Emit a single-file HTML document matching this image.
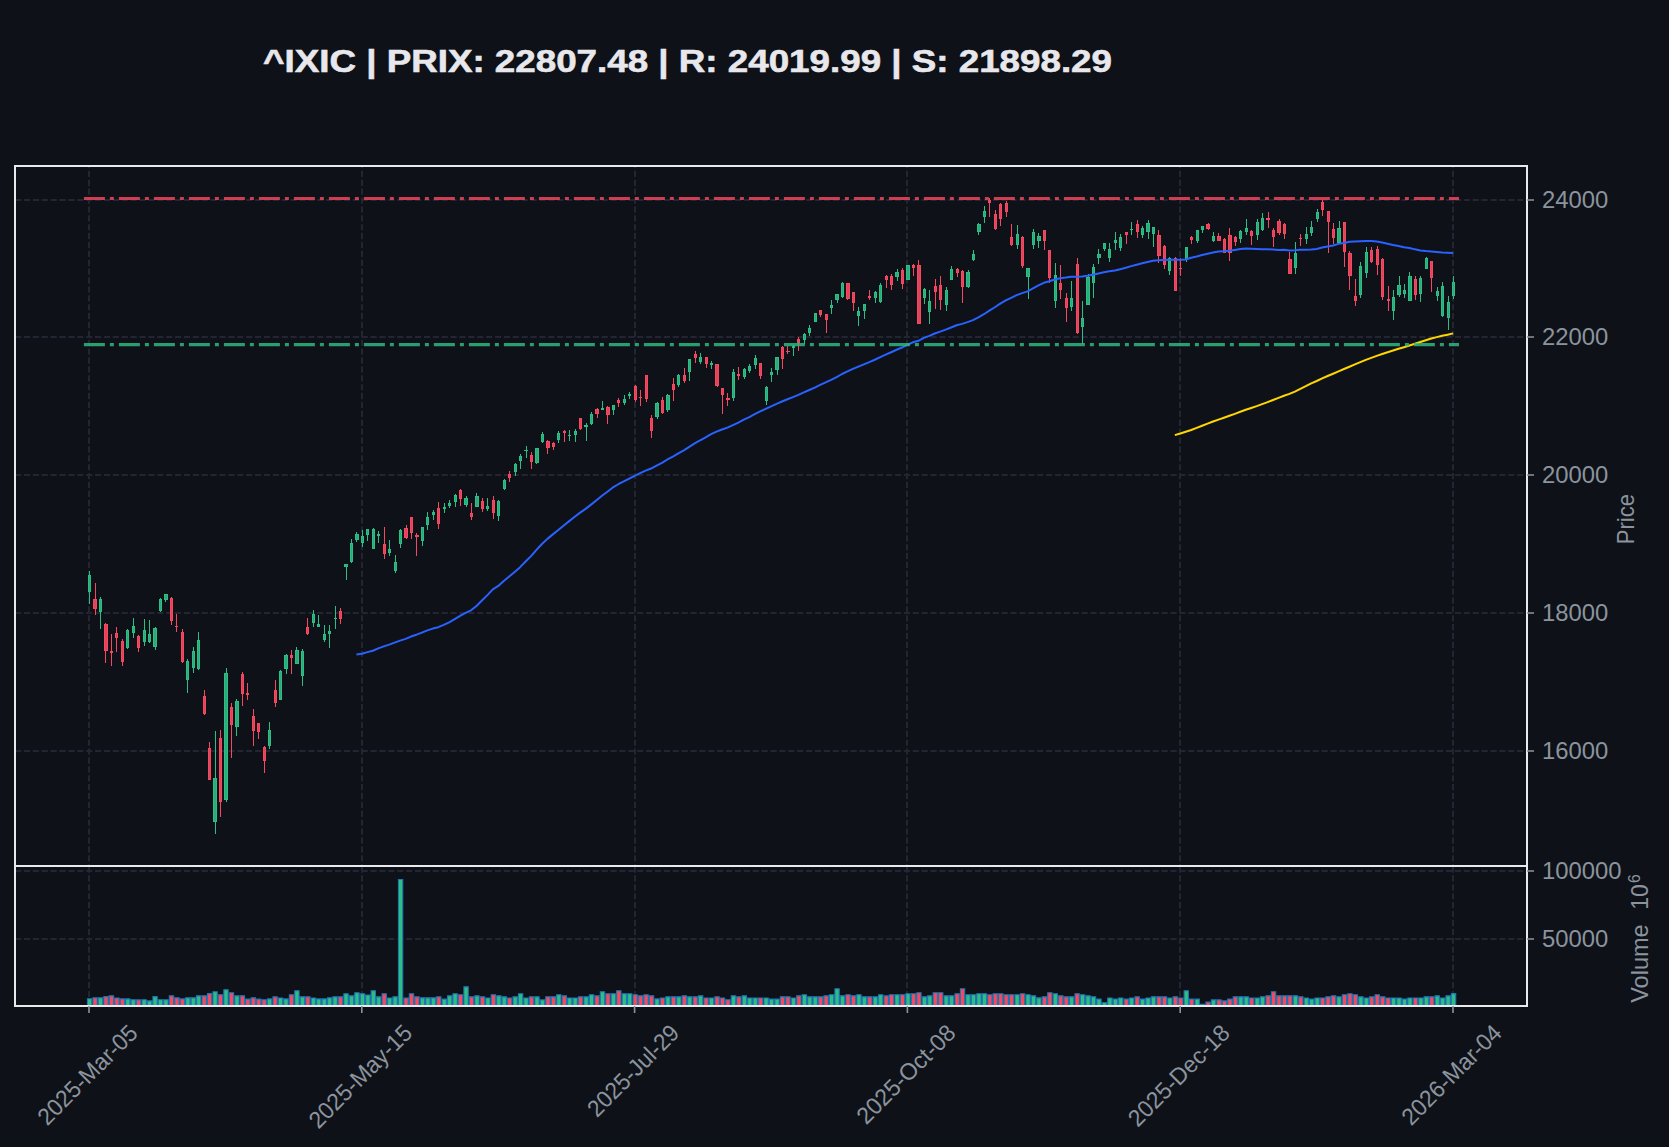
<!DOCTYPE html>
<html><head><meta charset="utf-8"><title>^IXIC chart</title>
<style>html,body{margin:0;padding:0;background:#0e1117;} svg{display:block;} text{font-family:"Liberation Sans", sans-serif;}</style>
</head><body>
<svg width="1669" height="1147" viewBox="0 0 1669 1147">
<rect x="0" y="0" width="1669" height="1147" fill="#0e1117"/>
<text x="263" y="72.0" font-weight="bold" font-size="31.5" fill="#e8e8ec" stroke="#e8e8ec" stroke-width="0.6" textLength="849" lengthAdjust="spacingAndGlyphs">^IXIC | PRIX: 22807.48 | R: 24019.99 | S: 21898.29</text>
<path d="M15 200H1527M15 337H1527M15 475H1527M15 613H1527M15 751H1527M15 871.00H1527M15 939.00H1527" stroke="#232532" stroke-width="2" stroke-dasharray="6.2 2.688" fill="none"/>
<path d="M89 866V166M362 866V166M635 866V166M907 866V166M1180 866V166M1453 866V166" stroke="#232532" stroke-width="2" stroke-dasharray="6.2 2.688" stroke-dashoffset="4.3" fill="none"/>
<path d="M89 1006V866M362 1006V866M635 1006V866M907 1006V866M1180 1006V866M1453 1006V866" stroke="#232532" stroke-width="2" stroke-dasharray="6.2 2.688" stroke-dashoffset="0" fill="none"/>
<path d="M89 571h1V604h-1zM100 597h1V629h-1zM127 629h1V649h-1zM133 618h1V638h-1zM144 619h1V646h-1zM149 620h1V643h-1zM155 627h1V650h-1zM160 598h1V612h-1zM165 594h1V602h-1zM187 659h1V693h-1zM193 647h1V673h-1zM198 632h1V670h-1zM215 731h1V834h-1zM226 668h1V802h-1zM236 699h1V736h-1zM269 722h1V749h-1zM280 670h1V700h-1zM286 654h1V674h-1zM296 647h1V664h-1zM302 649h1V686h-1zM313 610h1V627h-1zM318 615h1V627h-1zM324 625h1V642h-1zM329 625h1V648h-1zM335 606h1V629h-1zM346 564h1V580h-1zM351 539h1V563h-1zM356 532h1V542h-1zM362 530h1V547h-1zM367 529h1V541h-1zM373 528h1V549h-1zM378 531h1V543h-1zM389 540h1V556h-1zM395 555h1V573h-1zM400 529h1V548h-1zM422 527h1V546h-1zM427 512h1V530h-1zM433 510h1V520h-1zM444 503h1V513h-1zM449 500h1V508h-1zM455 494h1V507h-1zM466 496h1V507h-1zM476 493h1V507h-1zM487 498h1V511h-1zM498 500h1V521h-1zM504 479h1V490h-1zM515 463h1V476h-1zM520 454h1V469h-1zM526 446h1V458h-1zM536 448h1V464h-1zM542 432h1V443h-1zM558 431h1V443h-1zM569 430h1V441h-1zM575 429h1V442h-1zM586 423h1V441h-1zM591 412h1V425h-1zM602 401h1V410h-1zM613 405h1V415h-1zM624 395h1V405h-1zM629 392h1V399h-1zM657 402h1V419h-1zM667 394h1V412h-1zM678 374h1V387h-1zM689 359h1V381h-1zM700 353h1V364h-1zM711 361h1V369h-1zM733 369h1V401h-1zM744 368h1V379h-1zM749 364h1V373h-1zM755 355h1V369h-1zM766 386h1V405h-1zM771 368h1V382h-1zM777 357h1V375h-1zM793 345h1V356h-1zM804 333h1V344h-1zM809 325h1V336h-1zM815 313h1V322h-1zM831 300h1V314h-1zM837 294h1V303h-1zM842 282h1V298h-1zM858 307h1V326h-1zM864 304h1V319h-1zM875 291h1V303h-1zM880 283h1V303h-1zM897 269h1V281h-1zM908 265h1V280h-1zM924 288h1V304h-1zM929 290h1V324h-1zM946 287h1V311h-1zM951 266h1V280h-1zM968 270h1V288h-1zM973 250h1V261h-1zM978 223h1V235h-1zM984 206h1V223h-1zM1017 225h1V249h-1zM1028 268h1V299h-1zM1033 229h1V249h-1zM1038 233h1V248h-1zM1055 263h1V308h-1zM1071 281h1V311h-1zM1082 301h1V344h-1zM1088 274h1V305h-1zM1093 264h1V298h-1zM1098 249h1V264h-1zM1104 243h1V251h-1zM1109 243h1V262h-1zM1115 232h1V250h-1zM1120 234h1V251h-1zM1131 222h1V235h-1zM1142 226h1V238h-1zM1148 220h1V239h-1zM1153 227h1V247h-1zM1169 257h1V275h-1zM1186 247h1V262h-1zM1197 230h1V243h-1zM1202 226h1V233h-1zM1213 232h1V242h-1zM1240 230h1V243h-1zM1246 219h1V235h-1zM1257 219h1V240h-1zM1262 213h1V231h-1zM1295 242h1V274h-1zM1306 227h1V244h-1zM1311 221h1V236h-1zM1317 209h1V222h-1zM1339 221h1V244h-1zM1360 262h1V298h-1zM1366 247h1V278h-1zM1393 290h1V320h-1zM1399 276h1V297h-1zM1404 284h1V298h-1zM1409 272h1V301h-1zM1420 276h1V302h-1zM1426 257h1V269h-1zM1437 287h1V301h-1zM1442 282h1V317h-1zM1448 296h1V330h-1zM1453 276h1V299h-1z" fill="#2ebd85"/>
<path d="M95 583h1V615h-1zM105 623h1V663h-1zM111 634h1V666h-1zM116 627h1V652h-1zM122 639h1V666h-1zM138 635h1V652h-1zM171 597h1V625h-1zM176 614h1V632h-1zM182 629h1V663h-1zM204 690h1V715h-1zM209 742h1V780h-1zM220 730h1V817h-1zM231 703h1V758h-1zM242 672h1V706h-1zM247 683h1V700h-1zM253 709h1V746h-1zM258 723h1V739h-1zM264 746h1V773h-1zM275 680h1V707h-1zM291 650h1V674h-1zM307 618h1V635h-1zM340 608h1V624h-1zM384 527h1V559h-1zM406 525h1V539h-1zM411 517h1V539h-1zM416 533h1V556h-1zM438 502h1V529h-1zM460 489h1V506h-1zM471 503h1V520h-1zM482 498h1V512h-1zM493 496h1V519h-1zM509 471h1V482h-1zM531 452h1V469h-1zM547 440h1V454h-1zM553 442h1V450h-1zM564 430h1V442h-1zM580 418h1V430h-1zM597 408h1V418h-1zM607 406h1V424h-1zM618 398h1V407h-1zM635 385h1V402h-1zM640 390h1V406h-1zM646 375h1V402h-1zM651 415h1V438h-1zM662 397h1V414h-1zM673 378h1V401h-1zM684 368h1V383h-1zM695 351h1V363h-1zM706 357h1V368h-1zM717 364h1V387h-1zM722 388h1V414h-1zM727 393h1V406h-1zM738 367h1V380h-1zM760 363h1V379h-1zM782 346h1V369h-1zM787 346h1V354h-1zM798 337h1V351h-1zM820 310h1V317h-1zM826 314h1V333h-1zM847 283h1V300h-1zM853 292h1V311h-1zM869 290h1V300h-1zM886 275h1V288h-1zM891 274h1V290h-1zM902 268h1V289h-1zM913 264h1V276h-1zM918 260h1V324h-1zM935 279h1V309h-1zM940 276h1V310h-1zM957 268h1V277h-1zM962 270h1V303h-1zM989 198h1V217h-1zM995 210h1V230h-1zM1000 203h1V226h-1zM1006 201h1V217h-1zM1011 224h1V246h-1zM1022 236h1V268h-1zM1044 230h1V250h-1zM1049 250h1V283h-1zM1060 265h1V299h-1zM1066 293h1V322h-1zM1077 258h1V334h-1zM1126 232h1V244h-1zM1137 220h1V238h-1zM1158 230h1V263h-1zM1164 245h1V269h-1zM1175 257h1V291h-1zM1180 258h1V276h-1zM1191 236h1V244h-1zM1208 223h1V230h-1zM1218 233h1V241h-1zM1224 238h1V253h-1zM1229 228h1V261h-1zM1235 236h1V246h-1zM1251 230h1V245h-1zM1268 212h1V228h-1zM1273 228h1V247h-1zM1279 219h1V235h-1zM1284 223h1V239h-1zM1289 252h1V274h-1zM1300 234h1V246h-1zM1322 200h1V216h-1zM1328 211h1V253h-1zM1333 223h1V244h-1zM1344 222h1V267h-1zM1349 251h1V290h-1zM1355 279h1V306h-1zM1371 247h1V263h-1zM1377 246h1V275h-1zM1382 258h1V300h-1zM1388 286h1V311h-1zM1415 276h1V300h-1zM1431 261h1V292h-1z" fill="#f6485f"/>
<path d="M88 575H91V592H88zM99 599H102V612H99zM126 630H129V648H126zM132 626H135V633H132zM143 630H146V642H143zM148 634H151V642H148zM153 628H157V647H153zM159 599H162V611H159zM164 594H168V600H164zM186 661H189V680H186zM192 651H195V668H192zM197 640H200V669H197zM213 778H217V822H213zM224 673H228V800H224zM235 701H239V727H235zM268 730H271V746H268zM279 671H282V700H279zM284 655H288V669H284zM295 650H299V664H295zM301 651H304V676H301zM312 614H315V623H312zM317 624H320V627H317zM323 634H326V640H323zM328 631H331V634H328zM334 618H337V619H334zM344 564H348V567H344zM350 543H353V562H350zM355 534H359V540H355zM361 536H364V543H361zM366 529H369V535H366zM372 529H375V549H372zM377 534H380V536H377zM388 549H391V553H388zM394 562H397V571H394zM399 530H402V544H399zM421 527H424V541H421zM426 517H429V525H426zM432 512H435V515H432zM443 507H446V509H443zM448 503H451V506H448zM454 495H457V502H454zM464 498H468V505H464zM475 496H479V507H475zM486 506H489V509H486zM497 501H500V516H497zM503 480H506V489H503zM514 464H517V472H514zM519 456H522V461H519zM524 450H528V451H524zM535 448H539V463H535zM541 434H544V442H541zM557 433H560V440H557zM568 435H571V436H568zM574 431H577V435H574zM584 425H588V427H584zM590 414H593V424H590zM601 408H604V410H601zM612 405H615V410H612zM623 399H626V403H623zM628 394H631V396H628zM655 403H659V417H655zM666 395H670V410H666zM677 375H680V385H677zM688 359H691V372H688zM699 357H702V362H699zM710 363H713V365H710zM732 372H735V398H732zM743 369H746V377H743zM748 366H751V371H748zM754 358H757V365H754zM765 387H768V401H765zM770 372H773V375H770zM775 357H779V370H775zM792 346H795V348H792zM803 334H806V340H803zM808 328H811V333H808zM814 313H817V322H814zM830 305H833V308H830zM835 294H839V300H835zM841 283H844V297H841zM857 311H860V316H857zM863 304H866V311H863zM874 292H877V298H874zM879 285H882V302H879zM895 272H899V277H895zM906 265H910V280H906zM923 289H926V298H923zM928 301H931V312H928zM945 290H948V305H945zM950 269H953V280H950zM966 272H970V287H966zM972 254H975V260H972zM977 224H981V232H977zM983 211H986V217H983zM1016 234H1019V245H1016zM1026 268H1030V277H1026zM1032 232H1035V245H1032zM1037 236H1041V241H1037zM1054 275H1057V301H1054zM1070 298H1073V307H1070zM1081 318H1084V327H1081zM1086 277H1090V305H1086zM1092 267H1095V283H1092zM1097 254H1101V258H1097zM1103 243H1106V249H1103zM1108 249H1111V258H1108zM1114 240H1117V243H1114zM1119 237H1122V248H1119zM1130 229H1133V230H1130zM1141 228H1144V235H1141zM1146 223H1150V232H1146zM1152 227H1155V234H1152zM1168 258H1171V271H1168zM1185 247H1188V260H1185zM1196 230H1199V241H1196zM1201 226H1204V230H1201zM1212 236H1215V241H1212zM1239 231H1242V239H1239zM1245 228H1248V232H1245zM1256 222H1259V235H1256zM1261 218H1264V230H1261zM1294 253H1297V268H1294zM1305 234H1308V239H1305zM1310 227H1313V233H1310zM1316 212H1319V219H1316zM1337 228H1341V243H1337zM1359 266H1362V295H1359zM1365 252H1368V273H1365zM1392 297H1395V311H1392zM1397 285H1401V295H1397zM1403 290H1406V294H1403zM1408 276H1412V301H1408zM1419 278H1422V294H1419zM1425 258H1428V269H1425zM1436 291H1439V296H1436zM1441 286H1444V316H1441zM1447 302H1450V318H1447zM1452 282H1455V296H1452z" fill="#2ebd85"/>
<path d="M93 599H97V609H93zM104 624H108V651H104zM110 651H113V653H110zM115 633H118V638H115zM121 641H124V662H121zM137 636H140V648H137zM170 598H173V621H170zM175 626H178V627H175zM181 632H184V662H181zM203 696H206V714H203zM208 748H211V780H208zM219 738H222V802H219zM230 707H233V725H230zM241 674H244V694H241zM246 693H249V695H246zM252 716H255V731H252zM257 723H260V732H257zM263 747H266V761H263zM274 690H277V703H274zM290 655H293V658H290zM306 627H309V634H306zM339 611H342V619H339zM383 544H386V554H383zM404 528H408V538H404zM410 517H413V533H410zM415 535H419V537H415zM437 508H440V524H437zM459 490H462V499H459zM470 513H473V517H470zM481 501H484V509H481zM492 500H495V513H492zM508 474H511V478H508zM530 455H533V462H530zM546 441H550V448H546zM552 443H555V447H552zM563 431H566V433H563zM579 418H582V429H579zM595 409H599V414H595zM606 407H610V415H606zM617 400H620V403H617zM634 386H637V400H634zM639 397H642V398H639zM645 375H648V399H645zM650 418H653V431H650zM661 400H664V413H661zM672 384H675V390H672zM683 375H686V381H683zM694 354H697V358H694zM705 357H708V364H705zM715 364H719V386H715zM721 388H724V395H721zM726 398H730V400H726zM737 374H740V376H737zM759 363H762V376H759zM781 347H784V359H781zM786 351H790V352H786zM797 339H800V343H797zM819 310H822V315H819zM825 314H828V320H825zM846 283H850V299H846zM852 292H855V303H852zM868 296H871V298H868zM885 276H888V280H885zM890 276H893V285H890zM901 270H904V284H901zM912 265H915V268H912zM917 265H921V324H917zM934 286H937V292H934zM939 285H942V300H939zM956 269H959V273H956zM961 271H964V287H961zM988 200H991V203H988zM994 214H997V229H994zM999 204H1002V219H999zM1005 203H1008V212H1005zM1010 237H1013V245H1010zM1021 237H1024V266H1021zM1043 230H1046V241H1043zM1048 250H1051V278H1048zM1059 283H1062V290H1059zM1065 298H1068V308H1065zM1076 264H1079V333H1076zM1125 232H1128V235H1125zM1136 224H1139V232H1136zM1157 235H1161V256H1157zM1163 246H1166V265H1163zM1174 258H1177V291H1174zM1179 268H1182V269H1179zM1190 237H1193V240H1190zM1206 224H1210V229H1206zM1217 236H1221V241H1217zM1223 239H1226V253H1223zM1228 235H1232V253H1228zM1234 237H1237V242H1234zM1250 231H1253V236H1250zM1266 218H1270V220H1266zM1272 230H1275V237H1272zM1277 221H1281V233H1277zM1283 224H1286V234H1283zM1288 259H1292V274H1288zM1299 238H1302V239H1299zM1321 202H1324V210H1321zM1327 211H1330V222H1327zM1332 229H1335V238H1332zM1343 222H1346V252H1343zM1348 253H1352V276H1348zM1354 296H1357V301H1354zM1370 250H1373V262H1370zM1376 249H1379V265H1376zM1381 259H1384V297H1381zM1387 299H1390V301H1387zM1414 279H1417V295H1414zM1430 261H1433V278H1430z" fill="#f6485f"/>
<path d="M89 576H90V591H89zM100 600H101V611H100zM127 631H128V647H127zM133 627H134V632H133zM144 631H145V641H144zM149 635H150V641H149zM154 629H156V646H154zM160 600H161V610H160zM165 595H167V599H165zM187 662H188V679H187zM193 652H194V667H193zM198 641H199V668H198zM214 779H216V821H214zM225 674H227V799H225zM236 702H238V726H236zM269 731H270V745H269zM280 672H281V699H280zM285 656H287V668H285zM296 651H298V663H296zM302 652H303V675H302zM313 615H314V622H313zM318 625H319V626H318zM324 635H325V639H324zM329 632H330V633H329zM345 565H347V566H345zM351 544H352V561H351zM356 535H358V539H356zM362 537H363V542H362zM367 530H368V534H367zM373 530H374V548H373zM389 550H390V552H389zM395 563H396V570H395zM400 531H401V543H400zM422 528H423V540H422zM427 518H428V524H427zM433 513H434V514H433zM449 504H450V505H449zM455 496H456V501H455zM465 499H467V504H465zM476 497H478V506H476zM487 507H488V508H487zM498 502H499V515H498zM504 481H505V488H504zM515 465H516V471H515zM520 457H521V460H520zM536 449H538V462H536zM542 435H543V441H542zM558 434H559V439H558zM575 432H576V434H575zM591 415H592V423H591zM613 406H614V409H613zM624 400H625V402H624zM656 404H658V416H656zM667 396H669V409H667zM678 376H679V384H678zM689 360H690V371H689zM700 358H701V361H700zM733 373H734V397H733zM744 370H745V376H744zM749 367H750V370H749zM755 359H756V364H755zM766 388H767V400H766zM771 373H772V374H771zM776 358H778V369H776zM804 335H805V339H804zM809 329H810V332H809zM815 314H816V321H815zM831 306H832V307H831zM836 295H838V299H836zM842 284H843V296H842zM858 312H859V315H858zM864 305H865V310H864zM875 293H876V297H875zM880 286H881V301H880zM896 273H898V276H896zM907 266H909V279H907zM924 290H925V297H924zM929 302H930V311H929zM946 291H947V304H946zM951 270H952V279H951zM967 273H969V286H967zM973 255H974V259H973zM978 225H980V231H978zM984 212H985V216H984zM1017 235H1018V244H1017zM1027 269H1029V276H1027zM1033 233H1034V244H1033zM1038 237H1040V240H1038zM1055 276H1056V300H1055zM1071 299H1072V306H1071zM1082 319H1083V326H1082zM1087 278H1089V304H1087zM1093 268H1094V282H1093zM1098 255H1100V257H1098zM1104 244H1105V248H1104zM1109 250H1110V257H1109zM1115 241H1116V242H1115zM1120 238H1121V247H1120zM1142 229H1143V234H1142zM1147 224H1149V231H1147zM1153 228H1154V233H1153zM1169 259H1170V270H1169zM1186 248H1187V259H1186zM1197 231H1198V240H1197zM1202 227H1203V229H1202zM1213 237H1214V240H1213zM1240 232H1241V238H1240zM1246 229H1247V231H1246zM1257 223H1258V234H1257zM1262 219H1263V229H1262zM1295 254H1296V267H1295zM1306 235H1307V238H1306zM1311 228H1312V232H1311zM1317 213H1318V218H1317zM1338 229H1340V242H1338zM1360 267H1361V294H1360zM1366 253H1367V272H1366zM1393 298H1394V310H1393zM1398 286H1400V294H1398zM1404 291H1405V293H1404zM1409 277H1411V300H1409zM1420 279H1421V293H1420zM1426 259H1427V268H1426zM1437 292H1438V295H1437zM1442 287H1443V315H1442zM1448 303H1449V317H1448zM1453 283H1454V295H1453z" fill="#2aac7a"/>
<path d="M94 600H96V608H94zM105 625H107V650H105zM116 634H117V637H116zM122 642H123V661H122zM138 637H139V647H138zM171 599H172V620H171zM182 633H183V661H182zM204 697H205V713H204zM209 749H210V779H209zM220 739H221V801H220zM231 708H232V724H231zM242 675H243V693H242zM253 717H254V730H253zM258 724H259V731H258zM264 748H265V760H264zM275 691H276V702H275zM291 656H292V657H291zM307 628H308V633H307zM340 612H341V618H340zM384 545H385V553H384zM405 529H407V537H405zM411 518H412V532H411zM438 509H439V523H438zM460 491H461V498H460zM471 514H472V516H471zM482 502H483V508H482zM493 501H494V512H493zM509 475H510V477H509zM531 456H532V461H531zM547 442H549V447H547zM553 444H554V446H553zM580 419H581V428H580zM596 410H598V413H596zM607 408H609V414H607zM618 401H619V402H618zM635 387H636V399H635zM646 376H647V398H646zM651 419H652V430H651zM662 401H663V412H662zM673 385H674V389H673zM684 376H685V380H684zM695 355H696V357H695zM706 358H707V363H706zM716 365H718V385H716zM722 389H723V394H722zM760 364H761V375H760zM782 348H783V358H782zM798 340H799V342H798zM820 311H821V314H820zM826 315H827V319H826zM847 284H849V298H847zM853 293H854V302H853zM886 277H887V279H886zM891 277H892V284H891zM902 271H903V283H902zM913 266H914V267H913zM918 266H920V323H918zM935 287H936V291H935zM940 286H941V299H940zM957 270H958V272H957zM962 272H963V286H962zM989 201H990V202H989zM995 215H996V228H995zM1000 205H1001V218H1000zM1006 204H1007V211H1006zM1011 238H1012V244H1011zM1022 238H1023V265H1022zM1044 231H1045V240H1044zM1049 251H1050V277H1049zM1060 284H1061V289H1060zM1066 299H1067V307H1066zM1077 265H1078V332H1077zM1126 233H1127V234H1126zM1137 225H1138V231H1137zM1158 236H1160V255H1158zM1164 247H1165V264H1164zM1175 259H1176V290H1175zM1191 238H1192V239H1191zM1207 225H1209V228H1207zM1218 237H1220V240H1218zM1224 240H1225V252H1224zM1229 236H1231V252H1229zM1235 238H1236V241H1235zM1251 232H1252V235H1251zM1273 231H1274V236H1273zM1278 222H1280V232H1278zM1284 225H1285V233H1284zM1289 260H1291V273H1289zM1322 203H1323V209H1322zM1328 212H1329V221H1328zM1333 230H1334V237H1333zM1344 223H1345V251H1344zM1349 254H1351V275H1349zM1355 297H1356V300H1355zM1371 251H1372V261H1371zM1377 250H1378V264H1377zM1382 260H1383V296H1382zM1415 280H1416V294H1415zM1431 262H1432V277H1431z" fill="#e0445a"/>
<polyline points="356.44,654.51 361.90,653.73 367.36,652.13 372.81,650.72 378.27,648.38 383.72,646.39 389.18,644.61 394.64,642.62 400.09,640.61 405.55,638.85 411.00,636.55 416.46,634.69 421.92,632.56 427.37,630.33 432.83,628.58 438.28,627.19 443.74,624.91 449.20,622.42 454.65,619.08 460.11,615.85 465.56,612.80 471.02,610.33 476.48,605.97 481.93,600.55 487.39,595.11 492.84,589.34 498.30,585.90 503.76,581.01 509.21,576.55 514.67,571.95 520.12,567.17 525.58,561.56 531.04,556.16 536.49,549.90 541.95,543.97 547.40,538.86 552.86,534.39 558.32,529.95 563.77,525.44 569.23,521.14 574.68,516.74 580.14,512.64 585.60,508.86 591.05,504.65 596.51,500.25 601.96,495.78 607.42,491.72 612.88,487.45 618.33,484.24 623.79,481.35 629.24,478.56 634.70,475.84 640.16,473.21 645.61,470.61 651.07,468.55 656.52,465.53 661.98,462.82 667.44,459.48 672.89,456.69 678.35,453.43 683.80,450.39 689.26,446.84 694.72,443.46 700.17,440.26 705.63,437.30 711.08,434.07 716.54,431.66 722.00,429.50 727.45,427.60 732.91,425.05 738.36,422.62 743.82,419.67 749.28,417.07 754.73,414.05 760.19,411.46 765.64,408.93 771.10,406.35 776.56,403.89 782.01,401.50 787.47,399.26 792.92,397.06 798.38,394.93 803.84,392.38 809.29,389.97 814.75,387.56 820.20,384.91 825.66,382.36 831.12,379.80 836.57,377.04 842.03,374.00 847.48,371.37 852.94,368.86 858.40,366.58 863.85,364.39 869.31,362.07 874.76,359.75 880.22,357.15 885.68,354.64 891.13,352.27 896.59,349.74 902.04,347.55 907.50,344.86 912.96,342.26 918.41,340.77 923.87,337.93 929.32,335.90 934.78,333.47 940.24,331.57 945.69,329.58 951.15,327.46 956.60,325.29 962.06,323.85 967.52,322.13 972.97,320.07 978.43,317.27 983.88,314.23 989.34,310.57 994.80,307.26 1000.25,303.64 1005.71,300.45 1011.16,297.83 1016.62,295.13 1022.08,293.14 1027.53,291.34 1032.99,288.46 1038.44,285.44 1043.90,282.81 1049.36,281.23 1054.81,279.56 1060.27,278.32 1065.72,277.56 1071.18,276.65 1076.64,276.63 1082.09,276.42 1087.55,275.69 1093.00,274.74 1098.46,273.43 1103.92,272.18 1109.37,271.27 1114.83,270.41 1120.28,269.16 1125.74,267.79 1131.20,266.14 1136.65,264.70 1142.11,263.31 1147.56,261.93 1153.02,260.78 1158.48,260.30 1163.93,259.92 1169.39,259.64 1174.84,259.77 1180.30,259.84 1185.76,259.43 1191.21,257.74 1196.67,256.57 1202.12,255.07 1207.58,253.82 1213.04,252.54 1218.49,251.56 1223.95,251.23 1229.40,250.83 1234.86,249.93 1240.32,249.11 1245.77,248.59 1251.23,248.83 1256.68,249.05 1262.14,249.35 1267.60,249.15 1273.05,249.51 1278.51,249.93 1283.96,249.70 1289.42,250.49 1294.88,250.22 1300.33,249.64 1305.79,249.68 1311.24,249.50 1316.70,248.93 1322.16,247.56 1327.61,246.50 1333.07,245.46 1338.52,243.86 1343.98,242.93 1349.44,241.79 1354.89,241.45 1360.35,241.24 1365.80,240.94 1371.26,241.10 1376.72,241.53 1382.17,242.49 1387.63,243.71 1393.08,244.92 1398.54,245.93 1404.00,247.15 1409.45,248.02 1414.91,249.35 1420.36,250.45 1425.82,251.06 1431.28,251.50 1436.73,252.01 1442.19,252.57 1447.64,252.80 1453.10,253.06" stroke="#2962ff" stroke-width="2.0" fill="none" stroke-linejoin="round"/>
<polyline points="1174.84,435.10 1180.30,433.57 1185.76,431.76 1191.21,429.96 1196.67,427.86 1202.12,425.73 1207.58,423.68 1213.04,421.55 1218.49,419.61 1223.95,417.74 1229.40,415.77 1234.86,413.83 1240.32,411.81 1245.77,409.81 1251.23,408.00 1256.68,406.14 1262.14,404.12 1267.60,402.08 1273.05,399.96 1278.51,397.82 1283.96,395.74 1289.42,393.91 1294.88,391.60 1300.33,388.90 1305.79,386.18 1311.24,383.30 1316.70,381.00 1322.16,378.42 1327.61,376.03 1333.07,373.75 1338.52,371.41 1343.98,369.02 1349.44,366.74 1354.89,364.44 1360.35,362.12 1365.80,359.86 1371.26,357.82 1376.72,355.87 1382.17,354.06 1387.63,352.32 1393.08,350.55 1398.54,348.80 1404.00,347.18 1409.45,345.44 1414.91,343.75 1420.36,341.98 1425.82,340.18 1431.28,338.48 1436.73,337.11 1442.19,335.83 1447.64,334.67 1453.10,333.40" stroke="#ffd700" stroke-width="2.0" fill="none" stroke-linejoin="round"/>
<path d="M83.90 198.52H1459.00" stroke="#f6485f" stroke-width="3.1" stroke-dasharray="21 5 4 5" fill="none" opacity="0.82"/>
<path d="M83.90 344.66H1459.00" stroke="#2ebd85" stroke-width="3.1" stroke-dasharray="21 5 4 5" fill="none" opacity="0.82"/>
<path d="M87.45 998.68h4.3V1007h-4.3zM98.36 997.87h4.3V1007h-4.3zM125.64 998.88h4.3V1007h-4.3zM131.10 999.70h4.3V1007h-4.3zM142.01 999.70h4.3V1007h-4.3zM147.47 1000.92h4.3V1007h-4.3zM152.92 996.64h4.3V1007h-4.3zM158.38 999.70h4.3V1007h-4.3zM163.83 999.70h4.3V1007h-4.3zM185.66 997.87h4.3V1007h-4.3zM191.11 997.87h4.3V1007h-4.3zM196.57 995.83h4.3V1007h-4.3zM212.94 991.75h4.3V1007h-4.3zM223.85 989.72h4.3V1007h-4.3zM234.76 995.83h4.3V1007h-4.3zM267.50 998.88h4.3V1007h-4.3zM278.41 998.07h4.3V1007h-4.3zM283.87 998.88h4.3V1007h-4.3zM294.78 990.74h4.3V1007h-4.3zM300.23 996.85h4.3V1007h-4.3zM311.15 998.07h4.3V1007h-4.3zM316.60 998.88h4.3V1007h-4.3zM322.06 998.88h4.3V1007h-4.3zM327.51 997.87h4.3V1007h-4.3zM332.97 996.85h4.3V1007h-4.3zM343.88 993.79h4.3V1007h-4.3zM349.34 995.83h4.3V1007h-4.3zM354.79 992.77h4.3V1007h-4.3zM360.25 993.79h4.3V1007h-4.3zM365.71 995.01h4.3V1007h-4.3zM371.16 990.74h4.3V1007h-4.3zM376.62 996.85h4.3V1007h-4.3zM387.53 998.07h4.3V1007h-4.3zM392.99 996.85h4.3V1007h-4.3zM398.44 879.55h4.3V1007h-4.3zM420.27 997.87h4.3V1007h-4.3zM425.72 997.87h4.3V1007h-4.3zM431.18 997.87h4.3V1007h-4.3zM442.09 999.09h4.3V1007h-4.3zM447.55 995.83h4.3V1007h-4.3zM453.00 993.79h4.3V1007h-4.3zM463.91 986.86h4.3V1007h-4.3zM474.83 995.83h4.3V1007h-4.3zM485.74 998.07h4.3V1007h-4.3zM496.65 995.83h4.3V1007h-4.3zM502.11 996.85h4.3V1007h-4.3zM513.02 996.85h4.3V1007h-4.3zM518.47 993.79h4.3V1007h-4.3zM523.93 998.07h4.3V1007h-4.3zM534.84 996.85h4.3V1007h-4.3zM540.30 999.90h4.3V1007h-4.3zM556.67 994.81h4.3V1007h-4.3zM567.58 998.07h4.3V1007h-4.3zM573.03 998.07h4.3V1007h-4.3zM583.95 996.85h4.3V1007h-4.3zM589.40 994.81h4.3V1007h-4.3zM600.31 991.75h4.3V1007h-4.3zM611.23 993.79h4.3V1007h-4.3zM622.14 993.79h4.3V1007h-4.3zM627.59 993.79h4.3V1007h-4.3zM654.87 998.88h4.3V1007h-4.3zM665.79 996.85h4.3V1007h-4.3zM676.70 996.85h4.3V1007h-4.3zM687.61 996.85h4.3V1007h-4.3zM698.52 995.83h4.3V1007h-4.3zM709.43 998.07h4.3V1007h-4.3zM731.26 995.83h4.3V1007h-4.3zM742.17 995.83h4.3V1007h-4.3zM747.63 998.07h4.3V1007h-4.3zM753.08 998.07h4.3V1007h-4.3zM763.99 998.07h4.3V1007h-4.3zM769.45 999.09h4.3V1007h-4.3zM774.91 999.09h4.3V1007h-4.3zM791.27 998.07h4.3V1007h-4.3zM802.19 994.81h4.3V1007h-4.3zM807.64 996.85h4.3V1007h-4.3zM813.10 996.85h4.3V1007h-4.3zM829.47 994.81h4.3V1007h-4.3zM834.92 988.70h4.3V1007h-4.3zM840.38 995.83h4.3V1007h-4.3zM856.75 994.81h4.3V1007h-4.3zM862.20 996.85h4.3V1007h-4.3zM873.11 996.85h4.3V1007h-4.3zM878.57 994.81h4.3V1007h-4.3zM894.94 994.81h4.3V1007h-4.3zM905.85 993.79h4.3V1007h-4.3zM922.22 996.85h4.3V1007h-4.3zM927.67 995.83h4.3V1007h-4.3zM944.04 995.83h4.3V1007h-4.3zM949.50 995.83h4.3V1007h-4.3zM965.87 994.81h4.3V1007h-4.3zM971.32 994.81h4.3V1007h-4.3zM976.78 993.79h4.3V1007h-4.3zM982.23 993.79h4.3V1007h-4.3zM1014.97 994.81h4.3V1007h-4.3zM1025.88 994.81h4.3V1007h-4.3zM1031.34 995.83h4.3V1007h-4.3zM1036.79 997.87h4.3V1007h-4.3zM1053.16 993.79h4.3V1007h-4.3zM1069.53 996.85h4.3V1007h-4.3zM1080.44 994.81h4.3V1007h-4.3zM1085.90 995.83h4.3V1007h-4.3zM1091.35 996.85h4.3V1007h-4.3zM1096.81 999.09h4.3V1007h-4.3zM1102.27 1002.75h4.3V1007h-4.3zM1107.72 998.07h4.3V1007h-4.3zM1113.18 999.09h4.3V1007h-4.3zM1118.63 998.07h4.3V1007h-4.3zM1129.55 998.07h4.3V1007h-4.3zM1140.46 999.09h4.3V1007h-4.3zM1145.91 998.07h4.3V1007h-4.3zM1151.37 996.85h4.3V1007h-4.3zM1167.74 998.07h4.3V1007h-4.3zM1184.11 990.74h4.3V1007h-4.3zM1195.02 999.09h4.3V1007h-4.3zM1200.47 1004.18h4.3V1007h-4.3zM1211.39 999.90h4.3V1007h-4.3zM1238.67 996.85h4.3V1007h-4.3zM1244.12 996.85h4.3V1007h-4.3zM1255.03 998.07h4.3V1007h-4.3zM1260.49 996.85h4.3V1007h-4.3zM1293.23 995.83h4.3V1007h-4.3zM1304.14 998.07h4.3V1007h-4.3zM1309.59 999.09h4.3V1007h-4.3zM1315.05 998.07h4.3V1007h-4.3zM1336.87 996.85h4.3V1007h-4.3zM1358.70 996.85h4.3V1007h-4.3zM1364.15 998.07h4.3V1007h-4.3zM1391.43 998.07h4.3V1007h-4.3zM1396.89 998.07h4.3V1007h-4.3zM1402.35 999.09h4.3V1007h-4.3zM1407.80 998.07h4.3V1007h-4.3zM1418.71 998.07h4.3V1007h-4.3zM1424.17 996.85h4.3V1007h-4.3zM1435.08 995.83h4.3V1007h-4.3zM1440.54 998.07h4.3V1007h-4.3zM1445.99 995.83h4.3V1007h-4.3zM1451.45 993.59h4.3V1007h-4.3z" fill="#2ebd85" stroke="#1f77b4" stroke-width="1.1"/>
<path d="M92.91 997.87h4.3V1007h-4.3zM103.82 996.64h4.3V1007h-4.3zM109.27 995.83h4.3V1007h-4.3zM114.73 998.07h4.3V1007h-4.3zM120.19 998.88h4.3V1007h-4.3zM136.55 999.90h4.3V1007h-4.3zM169.29 995.83h4.3V1007h-4.3zM174.75 997.87h4.3V1007h-4.3zM180.20 998.88h4.3V1007h-4.3zM202.03 995.83h4.3V1007h-4.3zM207.48 993.59h4.3V1007h-4.3zM218.39 994.81h4.3V1007h-4.3zM229.31 992.77h4.3V1007h-4.3zM240.22 995.83h4.3V1007h-4.3zM245.67 999.09h4.3V1007h-4.3zM251.13 997.87h4.3V1007h-4.3zM256.59 999.09h4.3V1007h-4.3zM262.04 999.70h4.3V1007h-4.3zM272.95 996.85h4.3V1007h-4.3zM289.32 994.81h4.3V1007h-4.3zM305.69 996.85h4.3V1007h-4.3zM338.43 996.85h4.3V1007h-4.3zM382.07 993.79h4.3V1007h-4.3zM403.90 998.07h4.3V1007h-4.3zM409.35 993.79h4.3V1007h-4.3zM414.81 996.85h4.3V1007h-4.3zM436.63 996.85h4.3V1007h-4.3zM458.46 994.81h4.3V1007h-4.3zM469.37 996.85h4.3V1007h-4.3zM480.28 996.85h4.3V1007h-4.3zM491.19 994.81h4.3V1007h-4.3zM507.56 998.07h4.3V1007h-4.3zM529.39 996.85h4.3V1007h-4.3zM545.75 996.85h4.3V1007h-4.3zM551.21 996.85h4.3V1007h-4.3zM562.12 995.83h4.3V1007h-4.3zM578.49 996.85h4.3V1007h-4.3zM594.86 995.83h4.3V1007h-4.3zM605.77 993.79h4.3V1007h-4.3zM616.68 990.74h4.3V1007h-4.3zM633.05 994.81h4.3V1007h-4.3zM638.51 995.83h4.3V1007h-4.3zM643.96 994.81h4.3V1007h-4.3zM649.42 995.83h4.3V1007h-4.3zM660.33 998.07h4.3V1007h-4.3zM671.24 996.85h4.3V1007h-4.3zM682.15 995.83h4.3V1007h-4.3zM693.07 996.85h4.3V1007h-4.3zM703.98 998.07h4.3V1007h-4.3zM714.89 996.85h4.3V1007h-4.3zM720.35 998.07h4.3V1007h-4.3zM725.80 999.70h4.3V1007h-4.3zM736.71 996.85h4.3V1007h-4.3zM758.54 998.07h4.3V1007h-4.3zM780.36 996.85h4.3V1007h-4.3zM785.82 996.85h4.3V1007h-4.3zM796.73 995.83h4.3V1007h-4.3zM818.55 996.85h4.3V1007h-4.3zM824.01 995.83h4.3V1007h-4.3zM845.83 994.81h4.3V1007h-4.3zM851.29 995.83h4.3V1007h-4.3zM867.66 996.85h4.3V1007h-4.3zM884.03 995.83h4.3V1007h-4.3zM889.48 994.81h4.3V1007h-4.3zM900.39 994.81h4.3V1007h-4.3zM911.31 993.79h4.3V1007h-4.3zM916.76 992.77h4.3V1007h-4.3zM933.13 992.77h4.3V1007h-4.3zM938.59 992.77h4.3V1007h-4.3zM954.95 993.79h4.3V1007h-4.3zM960.41 988.70h4.3V1007h-4.3zM987.69 994.81h4.3V1007h-4.3zM993.15 993.79h4.3V1007h-4.3zM998.60 993.79h4.3V1007h-4.3zM1004.06 994.81h4.3V1007h-4.3zM1009.51 994.81h4.3V1007h-4.3zM1020.43 993.79h4.3V1007h-4.3zM1042.25 996.85h4.3V1007h-4.3zM1047.71 992.77h4.3V1007h-4.3zM1058.62 995.83h4.3V1007h-4.3zM1064.07 996.85h4.3V1007h-4.3zM1074.99 993.79h4.3V1007h-4.3zM1124.09 999.09h4.3V1007h-4.3zM1135.00 996.85h4.3V1007h-4.3zM1156.83 996.85h4.3V1007h-4.3zM1162.28 996.85h4.3V1007h-4.3zM1173.19 996.85h4.3V1007h-4.3zM1178.65 998.07h4.3V1007h-4.3zM1189.56 999.09h4.3V1007h-4.3zM1205.93 1002.14h4.3V1007h-4.3zM1216.84 999.90h4.3V1007h-4.3zM1222.30 1000.92h4.3V1007h-4.3zM1227.75 999.09h4.3V1007h-4.3zM1233.21 996.85h4.3V1007h-4.3zM1249.58 998.07h4.3V1007h-4.3zM1265.95 995.83h4.3V1007h-4.3zM1271.40 991.75h4.3V1007h-4.3zM1276.86 995.83h4.3V1007h-4.3zM1282.31 995.83h4.3V1007h-4.3zM1287.77 995.83h4.3V1007h-4.3zM1298.68 996.85h4.3V1007h-4.3zM1320.51 998.07h4.3V1007h-4.3zM1325.96 996.85h4.3V1007h-4.3zM1331.42 995.83h4.3V1007h-4.3zM1342.33 994.81h4.3V1007h-4.3zM1347.79 993.79h4.3V1007h-4.3zM1353.24 994.81h4.3V1007h-4.3zM1369.61 996.85h4.3V1007h-4.3zM1375.07 994.81h4.3V1007h-4.3zM1380.52 996.85h4.3V1007h-4.3zM1385.98 998.07h4.3V1007h-4.3zM1413.26 998.07h4.3V1007h-4.3zM1429.63 996.85h4.3V1007h-4.3z" fill="#f6485f" stroke="#1f77b4" stroke-width="1.1"/>
<rect x="15" y="1006" width="1512" height="3" fill="#0e1117"/>
<rect x="15" y="166" width="1512" height="700" fill="none" stroke="#e8eaed" stroke-width="2"/>
<rect x="15" y="866" width="1512" height="140" fill="none" stroke="#e8eaed" stroke-width="2"/>
<path d="M1527 200h7M1527 337h7M1527 475h7M1527 613h7M1527 751h7M1527 871.00h7M1527 939.00h7M89.00 1006v7M361.80 1006v7M634.60 1006v7M907.40 1006v7M1180.20 1006v7M1453.00 1006v7" stroke="#8b949e" stroke-width="1.6" fill="none"/>
<text x="1542" y="207.90"  font-size="23.6" fill="#8b949e" textLength="66.26" lengthAdjust="spacingAndGlyphs">24000</text>
<text x="1542" y="344.90"  font-size="23.6" fill="#8b949e" textLength="66.26" lengthAdjust="spacingAndGlyphs">22000</text>
<text x="1542" y="482.90"  font-size="23.6" fill="#8b949e" textLength="66.26" lengthAdjust="spacingAndGlyphs">20000</text>
<text x="1542" y="620.90"  font-size="23.6" fill="#8b949e" textLength="66.26" lengthAdjust="spacingAndGlyphs">18000</text>
<text x="1542" y="758.90"  font-size="23.6" fill="#8b949e" textLength="66.26" lengthAdjust="spacingAndGlyphs">16000</text>
<text x="1542" y="878.90"  font-size="23.6" fill="#8b949e" textLength="79.52" lengthAdjust="spacingAndGlyphs">100000</text>
<text x="1542" y="946.90"  font-size="23.6" fill="#8b949e" textLength="66.26" lengthAdjust="spacingAndGlyphs">50000</text>
<text transform="translate(1633.5 544.3) rotate(-90)"  font-size="23.6" fill="#8b949e" textLength="50.3" lengthAdjust="spacingAndGlyphs">Price</text>
<text transform="translate(1648.2 1002.8) rotate(-90)"  font-size="23.6" fill="#8b949e" textLength="78.5" lengthAdjust="spacingAndGlyphs">Volume</text>
<text transform="translate(1648.0 909.8) rotate(-90)"  font-size="23.6" fill="#8b949e" textLength="25.6" lengthAdjust="spacingAndGlyphs">10</text>
<text transform="translate(1640.1 883.0) rotate(-90)"  font-size="16" fill="#8b949e" textLength="8.8" lengthAdjust="spacingAndGlyphs">6</text>
<text transform="translate(47.26 1126.39) rotate(-45)"  font-size="23.6" fill="#8b949e" textLength="130.02" lengthAdjust="spacingAndGlyphs">2025-Mar-05</text>
<text transform="translate(318.38 1129.73) rotate(-45)"  font-size="23.6" fill="#8b949e" textLength="134.75" lengthAdjust="spacingAndGlyphs">2025-May-15</text>
<text transform="translate(596.99 1118.13) rotate(-45)"  font-size="23.6" fill="#8b949e" textLength="118.34" lengthAdjust="spacingAndGlyphs">2025-Jul-29</text>
<text transform="translate(866.14 1125.41) rotate(-45)"  font-size="23.6" fill="#8b949e" textLength="128.64" lengthAdjust="spacingAndGlyphs">2025-Oct-08</text>
<text transform="translate(1137.63 1128.04) rotate(-45)"  font-size="23.6" fill="#8b949e" textLength="132.36" lengthAdjust="spacingAndGlyphs">2025-Dec-18</text>
<text transform="translate(1411.26 1126.39) rotate(-45)"  font-size="23.6" fill="#8b949e" textLength="130.02" lengthAdjust="spacingAndGlyphs">2026-Mar-04</text>
</svg>
</body></html>
